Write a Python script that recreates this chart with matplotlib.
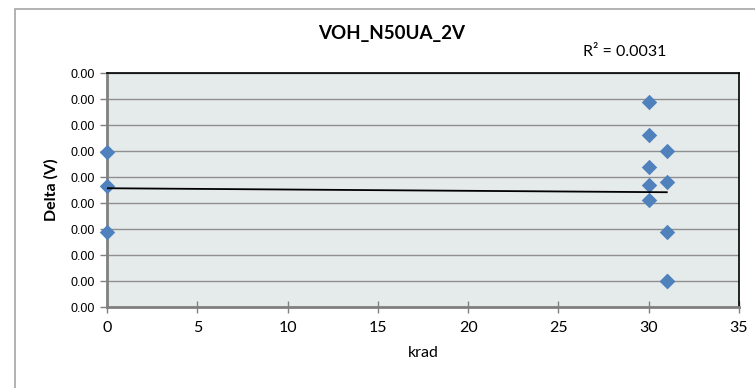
import numpy as np
import matplotlib
matplotlib.use("Agg")
import matplotlib.pyplot as plt
from matplotlib.patches import Rectangle

# Data (Delta in volts; all tick labels render as 0.00)
x_krad = [0, 0, 0, 30, 30, 30, 30, 30, 31, 31, 31, 31, 31]
delta_v = [0.00298, 0.002325, 0.00144,
           0.00394, 0.00331, 0.00269, 0.002345, 0.00206,
           0.00300, 0.002405, 0.00144, 0.00050, 0.00050]
y_ticks = [0, 0.0005, 0.0010, 0.0015, 0.0020, 0.0025, 0.0030, 0.0035, 0.0040, 0.0045]
x_ticks = [0, 5, 10, 15, 20, 25, 30, 35]
title = "VOH_N50UA_2V"
r2_label = "R² = 0.0031"

W, H = 755, 388
fig = plt.figure(figsize=(W / 100, H / 100), dpi=100)
fig.patch.set_facecolor("white")

# outer chart frame
fig.patches.append(Rectangle((15 / W, -0.1), 1.2, 1 - 9 / H + 0.1, transform=fig.transFigure,
                             fill=False, edgecolor="#A6A6A6", linewidth=1.2, zorder=0))

ax = fig.add_axes([107 / W, 1 - 307 / H, (739 - 107) / W, (307 - 73) / H])
ax.set_facecolor("#E5EBEB")

ax.set_xlim(0, 35)
ax.set_ylim(0, 0.0045)
ax.set_xticks(x_ticks)
ax.set_yticks(y_ticks)
ax.set_xticklabels([str(t) for t in x_ticks], fontfamily="Lato", fontsize=11.5)
ax.set_yticklabels([f"{t:.2f}" for t in y_ticks], fontfamily="Liberation Sans", fontsize=9)

ax.grid(axis="y", color="#8F8F8F", linewidth=1.0)
ax.set_axisbelow(True)

for s in ["top", "right"]:
    ax.spines[s].set_color("black")
    ax.spines[s].set_linewidth(1.2)
for s in ["left", "bottom"]:
    ax.spines[s].set_color("#808080")
    ax.spines[s].set_linewidth(2.0)

ax.tick_params(axis="x", direction="inout", length=8, color="#808080", width=1, pad=6)
ax.tick_params(axis="y", direction="out", length=5, color="#808080", width=1, pad=4)

ax.scatter(x_krad, delta_v, marker="D", s=62, color="#4F81BD", zorder=3, clip_on=False,
           linewidths=0)

# linear trendline
xs = np.array(x_krad, dtype=float)
ys = np.array(delta_v, dtype=float)
slope, intercept = np.polyfit(xs, ys, 1)
xt = np.array([xs.min(), xs.max()])
ax.plot(xt, slope * xt + intercept, color="black", linewidth=1.3, zorder=4)

fig.text(392 / W, 1 - 34 / H, title, ha="center", va="center", fontsize=13.5,
         fontweight="bold", fontfamily="Lato")
fig.text(625 / W, 1 - 52 / H, r2_label, ha="center", va="center", fontsize=11.5,
         fontfamily="Lato")
ax.set_ylabel("Delta (V)", fontsize=11.5, fontweight="bold", fontfamily="Lato", labelpad=8)
ax.set_xlabel("krad", fontsize=11.5, fontfamily="Lato", labelpad=8)

fig.savefig("out.png", dpi=100)
